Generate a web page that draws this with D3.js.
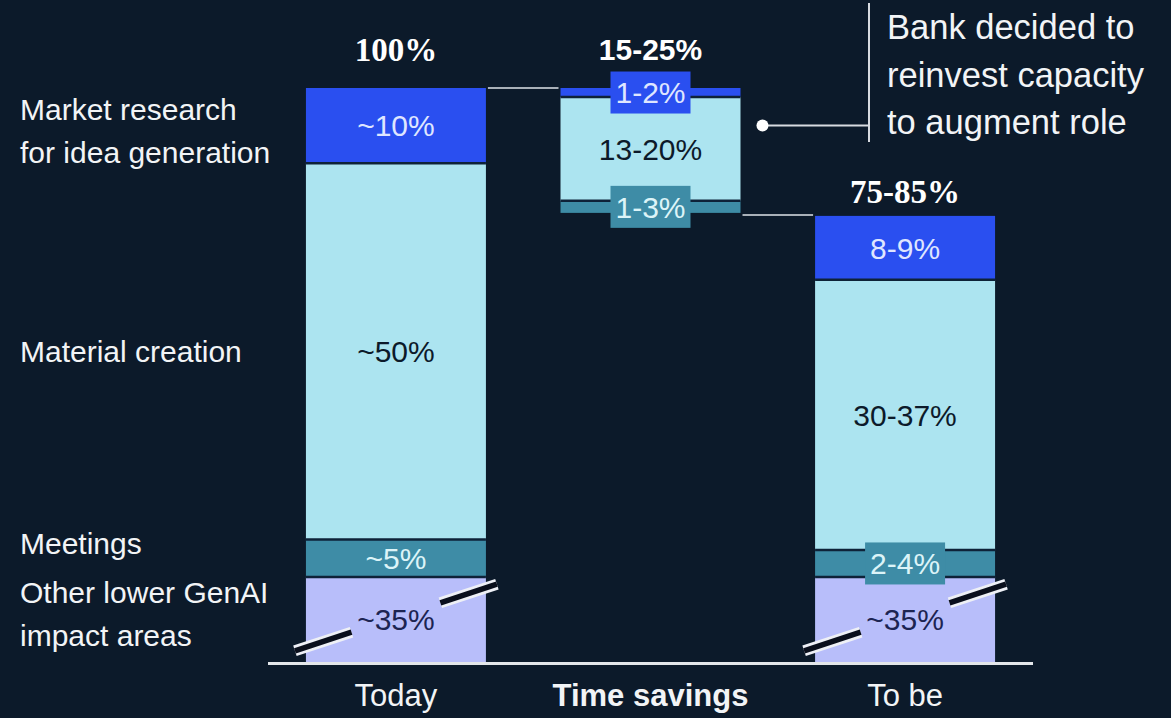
<!DOCTYPE html>
<html>
<head>
<meta charset="utf-8">
<script src="https://cdn.jsdelivr.net/npm/d3@7"></script>
<style>
  body { margin: 0; background: #0c1a2a; }
  svg { display: block; }
  .sans { font-family: "Liberation Sans", Arial, sans-serif; }
  .serif { font-family: "Liberation Serif", "DejaVu Serif", Georgia, serif; font-variant-numeric: oldstyle-nums; }
</style>
</head>
<body>
<svg id="chart"></svg>
<script>
/// DATA ////////////////////////////////////////////////////////////////////////////////

// categories, top of the bar first
var CATEGORY_LINES = [["Market research", "for idea generation"], ["Material creation"], ["Meetings"], ["Other lower GenAI", "impact areas"]];
var COLUMNS = ["Today", "Time savings", "To be"];
var COLUMN_TOTALS = ["100%", "15-25%", "75-85%"];

var TODAY_VALUES = [10, 50, 5, 35];
var TODAY_LABELS = ["~10%", "~50%", "~5%", "~35%"];

var SAVINGS_VALUES = [1.2, 13.8, 1.6];
var SAVINGS_LABELS = ["1-2%", "13-20%", "1-3%"];

var TOBE_VALUES = [8.5, 35.9, 3.6, 35];
var TOBE_LABELS = ["8-9%", "30-37%", "2-4%", "~35%"];

var NOTE_LINES = ["Bank decided to", "reinvest capacity", "to augment role"];
var NOTE_VALUE = 95; // where the note's dot points into the savings bar

/// SETUP ///////////////////////////////////////////////////////////////////////////////

var WIDTH = 1171, HEIGHT = 718;
var BASE_Y = 662, BREAK_Y = 577, TOP_Y = 88;

var BG = "#0c1a2a";
var COLORS = ["#2a4ff0", "#ace4f0", "#3e8ca6", "#b8befa"];
var TEXT_COLORS = ["#dfe6ff", "#0c1a2a", "#dcf4f8", "#1c2452"];

var svg = d3.select("#chart").attr("width", WIDTH).attr("height", HEIGHT);

var x = d3.scaleBand().domain(COLUMNS).range([268, 1033]).paddingInner(0.293).paddingOuter(0.149);

// broken axis: the lower "other" block is squeezed into a short band
var y = d3.scaleLinear()
    .domain([0, TODAY_VALUES[3], d3.sum(TODAY_VALUES)])
    .range([BASE_Y, BREAK_Y, TOP_Y]);

// build stacked segments
function stackUp(values, labels, col) {
    var segs = [], acc = 0;
    for (var i = values.length - 1; i >= 0; i--) {
        segs.push({ col: col, cat: i, y0: acc, y1: acc + values[i], label: labels[i] });
        acc += values[i];
    }
    return segs;
}
function stackDown(values, labels, col, start) {
    var segs = [], acc = start;
    for (var i = 0; i < values.length; i++) {
        segs.push({ col: col, cat: i, y0: acc - values[i], y1: acc, label: labels[i] });
        acc -= values[i];
    }
    return segs;
}

var todayTotal = d3.sum(TODAY_VALUES);
var savingsTotal = d3.sum(SAVINGS_VALUES);
var tobeTotal = d3.sum(TOBE_VALUES);

var segments = []
    .concat(stackUp(TODAY_VALUES, TODAY_LABELS, "Today"))
    .concat(stackDown(SAVINGS_VALUES, SAVINGS_LABELS, "Time savings", todayTotal))
    .concat(stackUp(TOBE_VALUES, TOBE_LABELS, "To be"));

var g = svg.append("g");

/// BARS ////////////////////////////////////////////////////////////////////////////////

g.selectAll("rect.seg")
    .data(segments)
    .enter()
    .append("rect")
        .attr("class", "seg")
        .attr("x", function (d) { return x(d.col) })
        .attr("y", function (d) { return y(d.y1) })
        .attr("width", x.bandwidth())
        .attr("height", function (d) { return y(d.y0) - y(d.y1) })
        .attr("fill", function (d) { return COLORS[d.cat] });

// dark separators between segments
g.selectAll("line.sep")
    .data(segments.filter(function (d) { return d.y0 > 0 && !(d.col == "Time savings" && d.cat == 2) }))
    .enter()
    .append("line")
        .attr("x1", function (d) { return x(d.col) })
        .attr("x2", function (d) { return x(d.col) + x.bandwidth() })
        .attr("y1", function (d) { return y(d.y0) })
        .attr("y2", function (d) { return y(d.y0) })
        .attr("stroke", "#0e2238")
        .attr("stroke-width", 2.5);

// axis break marks across the "other" block
segments.filter(function (d) { return d.cat == 3 }).forEach(function (d) {
    var cx = x(d.col) + x.bandwidth() / 2;
    var cy = (y(d.y0) + y(d.y1)) / 2 - 2;
    var hw = x.bandwidth() / 2 + 11, slope = -0.33;
    var pieces = [[0, 0.28], [0.72, 1]];
    pieces.forEach(function (p) {
        var xa = cx - hw + 2 * hw * p[0], xb = cx - hw + 2 * hw * p[1];
        var ya = cy + (xa - cx) * slope, yb = cy + (xb - cx) * slope;
        g.append("line").attr("x1", xa).attr("y1", ya).attr("x2", xb).attr("y2", yb)
            .attr("stroke", "#eef0f6").attr("stroke-width", 11);
        g.append("line").attr("x1", xa).attr("y1", ya).attr("x2", xb).attr("y2", yb)
            .attr("stroke", "#0a0f1c").attr("stroke-width", 5.5);
    });
});

// labels inside segments, thin ones get a box
segments.forEach(function (d) {
    var cx = x(d.col) + x.bandwidth() / 2;
    var cy = (y(d.y0) + y(d.y1)) / 2;
    if (y(d.y0) - y(d.y1) < 32) {
        g.append("rect")
            .attr("x", cx - 40).attr("y", cy - 21)
            .attr("width", 80).attr("height", 42)
            .attr("fill", COLORS[d.cat]);
    }
    g.append("text")
        .attr("class", "sans")
        .attr("x", cx).attr("y", cy)
        .attr("dy", "0.36em")
        .attr("text-anchor", "middle")
        .attr("font-size", 30)
        .attr("fill", TEXT_COLORS[d.cat])
        .text(d.label);
});

// baseline
g.append("line")
    .attr("x1", x.range()[0]).attr("x2", x.range()[1])
    .attr("y1", BASE_Y + 1.5).attr("y2", BASE_Y + 1.5)
    .attr("stroke", "#e4e7ea").attr("stroke-width", 3);

// waterfall connectors
var bw = x.bandwidth();
g.append("line")
    .attr("x1", x("Today") + bw + 2).attr("x2", x("Time savings") - 2)
    .attr("y1", y(todayTotal)).attr("y2", y(todayTotal))
    .attr("stroke", "#a9b0b8").attr("stroke-width", 2);
g.append("line")
    .attr("x1", x("Time savings") + bw + 2).attr("x2", x("To be") - 2)
    .attr("y1", y(tobeTotal) - 1).attr("y2", y(tobeTotal) - 1)
    .attr("stroke", "#a9b0b8").attr("stroke-width", 2);

/// TEXT ////////////////////////////////////////////////////////////////////////////////

// totals above the bars
var totalTops = [y(todayTotal) - 27, y(todayTotal) - 28, y(tobeTotal) - 13];
COLUMN_TOTALS.forEach(function (t, i) {
    g.append("text")
        .attr("class", i == 1 ? "sans" : "serif")
        .attr("x", x(COLUMNS[i]) + bw / 2)
        .attr("y", totalTops[i])
        .attr("text-anchor", "middle")
        .attr("font-size", i == 1 ? 30 : 33)
        .attr("font-weight", "bold")
        .attr("fill", "#ffffff")
        .text(t);
});

// column names
COLUMNS.forEach(function (c, i) {
    g.append("text")
        .attr("class", "sans")
        .attr("x", x(c) + bw / 2)
        .attr("y", 706)
        .attr("text-anchor", "middle")
        .attr("font-size", 31)
        .attr("font-weight", i == 1 ? "bold" : "normal")
        .attr("fill", "#f2f4f6")
        .text(c);
});

// category names on the left, next to the Today segments
var todaySegs = segments.filter(function (d) { return d.col == "Today" });
todaySegs.forEach(function (d) {
    var lines = CATEGORY_LINES[d.cat];
    var cy = (y(d.y0) + y(d.y1)) / 2 + (d.cat == 0 ? 5 : 0) + (d.cat == 2 ? -15 : 0) + (d.cat == 3 ? -6 : 0);
    var t = g.append("text")
        .attr("class", "sans")
        .attr("x", 20)
        .attr("font-size", 30)
        .attr("fill", "#f2f4f6");
    lines.forEach(function (l, k) {
        t.append("tspan")
            .attr("x", 20)
            .attr("y", cy + (k - (lines.length - 1) / 2) * 43)
            .attr("dy", "0.36em")
            .text(l);
    });
});

// note on the right
var dotX = x("Time savings") + bw + 22, dotY = y(NOTE_VALUE);
var barX = 869;
g.append("line").attr("x1", dotX).attr("x2", barX).attr("y1", dotY).attr("y2", dotY)
    .attr("stroke", "#d8dbe0").attr("stroke-width", 2);
g.append("line").attr("x1", barX).attr("x2", barX).attr("y1", 3).attr("y2", 142)
    .attr("stroke", "#d8dbe0").attr("stroke-width", 2);
g.append("circle").attr("cx", dotX).attr("cy", dotY).attr("r", 6).attr("fill", "#ffffff");

var note = g.append("text")
    .attr("class", "sans")
    .attr("font-size", 34.5)
    .attr("fill", "#f2f4f6");
NOTE_LINES.forEach(function (l, k) {
    note.append("tspan").attr("x", 887).attr("y", 39 + k * 47.5).text(l);
});
</script>
</body>
</html>
